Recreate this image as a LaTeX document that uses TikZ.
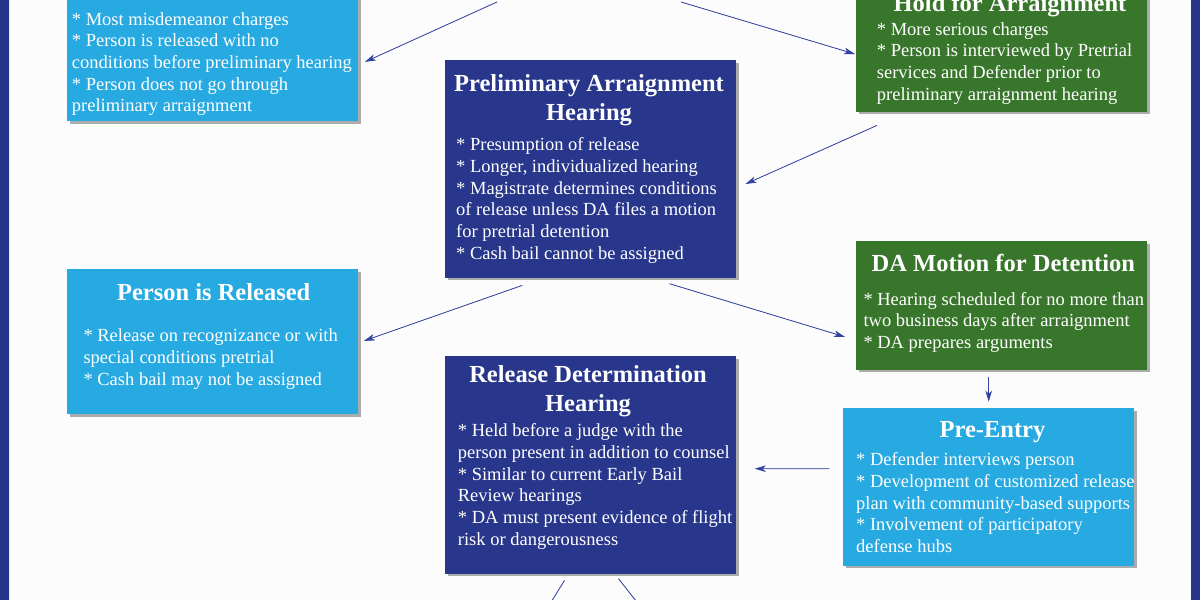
\documentclass[tikz,border=0pt]{standalone}
\usepackage{fontspec}
\setmainfont{Liberation Serif}
\usetikzlibrary{arrows.meta, positioning, shadows}

\definecolor{frameblue}{HTML}{27348B}
\definecolor{hearblue}{HTML}{28368B}
\definecolor{skyblue}{HTML}{27A9E1}
\definecolor{grassgreen}{HTML}{38762B}
\definecolor{linkblue}{HTML}{3442A0}

\begin{document}
\begin{tikzpicture}[
  x=1pt, y=-1pt,
  >={Stealth[length=11pt, width=6.5pt, inset=3pt]},
  card/.style={
    rectangle, anchor=north west, inner sep=0pt,
    minimum width=291pt,
    drop shadow={shadow xshift=2.5pt, shadow yshift=-2.5pt, opacity=0.45, fill=black!70}
  },
  cardtitle/.style={
    anchor=base, inner sep=0pt, align=center, text=white,
    font=\fontsize{24.5}{29}\selectfont\bfseries
  },
  cardtext/.style={
    anchor=base west, inner sep=0pt, align=left, text=white,
    font=\fontsize{18.5}{21.7}\selectfont
  },
  arrow/.style={->, line width=0.8pt, draw=linkblue, fill=linkblue}
]

\useasboundingbox (0,0) rectangle (1200,600);
\clip (0,0) rectangle (1200,600);
\fill[white!99!black] (0,0) rectangle (1200,600);

% --- page frame ---
\fill[frameblue] (0,0) rectangle (9,600);
\fill[frameblue!12] (9,0) rectangle (10,600);
\fill[frameblue] (1191,0) rectangle (1200,600);

% --- top row (cut by the page edge) ---
% text nodes sit on the baseline of their last line
\node[card, fill=skyblue, minimum height=201pt] (misd) at (67,-80) {};
\node[cardtext] (misdB) at (71.7,111.8) {* Most misdemeanor charges\\
  * Person is released with no\\
  conditions before preliminary hearing\\
  * Person does not go through\\
  preliminary arraignment};

\node[card, fill=grassgreen, minimum height=141.7pt] (hold) at (856,-30) {};
\node[cardtitle] (holdT) at (1010,11.7) {Hold for Arraignment};
\node[cardtext] (holdB) at (876.7,100.1) {* More serious charges\\
  * Person is interviewed by Pretrial\\
  services and Defender prior to\\
  preliminary arraignment hearing};

% --- preliminary arraignment ---
\node[card, fill=hearblue, minimum height=217.7pt] (prelim) at (445,60) {};
\node[cardtitle] (prelimT) at (589,120.7) {Preliminary Arraignment\\Hearing};
\node[cardtext] (prelimB) at (456,259.2) {* Presumption of release\\
  * Longer, individualized hearing\\
  * Magistrate determines conditions\\
  of release unless DA files a motion\\
  for pretrial detention\\
  * Cash bail cannot be assigned};

% --- outcomes of the arraignment ---
\node[card, fill=skyblue, minimum height=145pt] (released) at (67,269) {};
\node[cardtitle] (releasedT) at (213.7,300.7) {Person is Released};
\node[cardtext] (releasedB) at (83.3,385.1) {* Release on recognizance or with\\
  special conditions pretrial\\
  * Cash bail may not be assigned};

\node[card, fill=grassgreen, minimum height=128.3pt] (motion) at (856,241) {};
\node[cardtitle] (motionT) at (1003.3,271.7) {DA Motion for Detention};
\node[cardtext] (motionB) at (863.3,348.4) {* Hearing scheduled for no more than\\
  two business days after arraignment\\
  * DA prepares arguments};

\node[card, fill=skyblue, minimum height=157.7pt] (preentry) at (843,408) {};
\node[cardtitle] (preentryT) at (992.5,437.7) {Pre-Entry};
\node[cardtext] (preentryB) at (856,552.5) {* Defender interviews person\\
  * Development of customized release\\
  plan with community-based supports\\
  * Involvement of participatory\\
  defense hubs};

\node[card, fill=hearblue, minimum height=217.5pt] (reldet) at (445,356) {};
\node[cardtitle] (reldetT) at (588,411) {Release Determination\\Hearing};
\node[cardtext] (reldetB) at (457.7,545.2) {* Held before a judge with the\\
  person present in addition to counsel\\
  * Similar to current Early Bail\\
  Review hearings\\
  * DA must present evidence of flight\\
  risk or dangerousness};

% --- loose ends beyond the page ---
\coordinate (topL) at (497,2);
\coordinate (topR) at (681,2);
\coordinate (botL) at (540,620);
\coordinate (botR) at (651,620);

% --- connectors ---
\draw[arrow] (topL) -- ([shift={(6.5,-59.5)}]misd.south east);
\draw[arrow] (topR) -- ([shift={(-1,13)}]hold.west);
\draw[arrow] ([shift={(21,13.3)}]hold.south west) -- ([shift={(9,15)}]prelim.east);
\draw[arrow] ([shift={(-68.5,7.3)}]prelim.south) -- ([shift={(5.5,-0.8)}]released.east);
\draw[arrow] ([shift={(78.8,5.6)}]prelim.south) -- ([shift={(-11,-32.8)}]motion.south west);
\draw[arrow] ([shift={(0,7.4)}]preentry.north |- motion.south) -- ([shift={(0,-6.3)}]preentry.north);
\draw[arrow] ([shift={(-13.7,-18.4)}]preentry.west) -- ([shift={(18.3,3.75)}]reldet.east);
\draw[arrow] ([shift={(-26.2,6.5)}]reldet.south) -- (botL);
\draw[arrow] ([shift={(27.8,4.8)}]reldet.south) -- (botR);

\end{tikzpicture}
\end{document}
